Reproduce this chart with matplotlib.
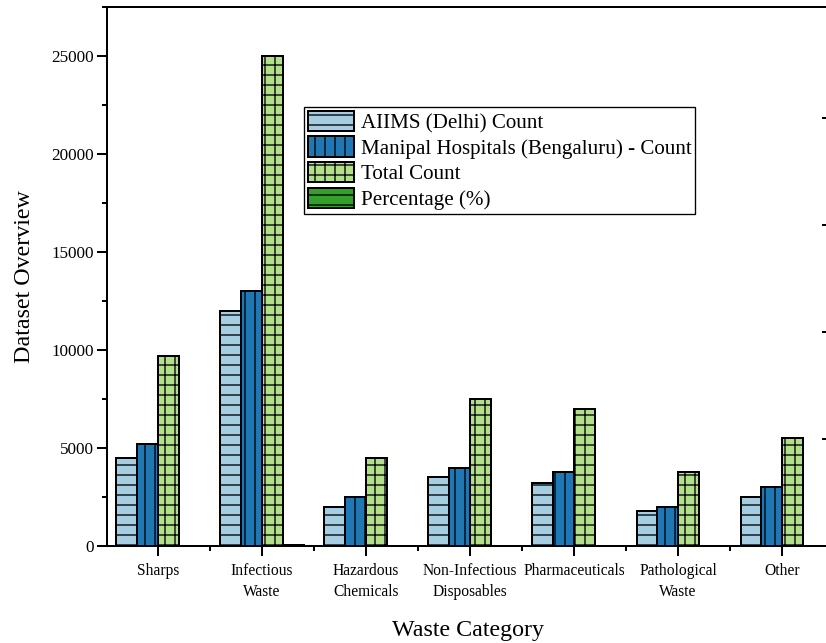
import numpy as np
import matplotlib
matplotlib.use('agg')
import matplotlib.pyplot as plt
from matplotlib.ticker import MultipleLocator, FixedLocator

# waste counts per category for the two hospitals
categories = ["Sharps", "Infectious\nWaste", "Hazardous\nChemicals", "Non-Infectious\nDisposables",
              "Pharmaceuticals", "Pathological\nWaste", "Other"]
aiims_counts = [4500, 12000, 2000, 3500, 3200, 1800, 2500]
manipal_counts = [5200, 13000, 2500, 4000, 3800, 2000, 3000]
total_counts = [9700, 25000, 4500, 7500, 7000, 3800, 5500]
percentages = [15.4, 39.7, 7.1, 11.9, 11.1, 6.0, 8.7]

series_labels = ["AIIMS (Delhi) Count", "Manipal Hospitals (Bengaluru) - Count",
                 "Total Count", "Percentage (%)"]
colors = ["#a6cee3", "#1f78b4", "#b2df8a", "#33a02c"]
hatches = ["--", "||", "++", "--"]

DPI = 120
W, H = 826, 643

plt.rcParams['font.family'] = ['Liberation Serif', 'DejaVu Serif']
plt.rcParams['hatch.linewidth'] = 0.8

def px(v):
    # pixels -> points
    return v * 72.0 / DPI

fig = plt.figure(figsize=(W / DPI, H / DPI), dpi=DPI)
ax = fig.add_axes([107 / W, 1 - 546 / H, (830 - 107) / W, (546 - 7) / H])

x = np.arange(len(categories))
width = 0.2
offsets = [-1.5, -0.5, 0.5, 1.5]
data = [aiims_counts, manipal_counts, total_counts, percentages]

handles = []
for vals, off, c, h, lab in zip(data, offsets, colors, hatches, series_labels):
    bars = ax.bar(x + off * width, vals, width, color=c, edgecolor='black',
                  linewidth=1.2, hatch=h, label=lab, zorder=2)
    handles.append(bars)

ax.set_xlim(-0.49, 6.46)
ax.set_ylim(0, 27500)

ax.yaxis.set_major_locator(MultipleLocator(5000))
ax.yaxis.set_minor_locator(MultipleLocator(2500))
ax.set_xticks(x)
ax.set_xticklabels(categories, fontsize=px(15.5), linespacing=1.45)
ax.xaxis.set_minor_locator(FixedLocator(x[:-1] + 0.5))

for s in ax.spines.values():
    s.set_linewidth(1.2)
    s.set_zorder(3)

ax.tick_params(axis='both', which='major', direction='out', length=px(10), width=1.2)
ax.tick_params(axis='both', which='minor', direction='out', length=px(5), width=1.2)
ax.tick_params(axis='y', which='major', labelsize=px(17), pad=px(3))
ax.tick_params(axis='x', which='major', pad=px(7))
ax.tick_params(top=False, right=False, which='both')

ax.set_ylabel("Dataset Overview", fontsize=px(24), labelpad=px(16))
ax.set_xlabel("Waste Category", fontsize=px(24), labelpad=px(20))

# secondary scale on the right for the percentage series
ax2 = ax.twinx()
ax2.set_ylim(0, 50.4)
ax2.set_yticks([10, 20, 30, 40])
ax2.tick_params(axis='y', direction='in', length=px(8), width=1.2, labelright=False)
for s in ax2.spines.values():
    s.set_linewidth(1.2)

leg = ax.legend(handles=handles, loc='upper left',
                bbox_to_anchor=(304 / W, 1 - 107 / H), bbox_transform=fig.transFigure,
                borderaxespad=0, fancybox=False, edgecolor='black', framealpha=1,
                fontsize=px(21), borderpad=0.18, handlelength=2.2, handleheight=1.1,
                labelspacing=0.16, handletextpad=0.33)
leg.get_frame().set_linewidth(0.8)
leg.set_zorder(5)

fig.savefig('out.png', dpi=DPI)
